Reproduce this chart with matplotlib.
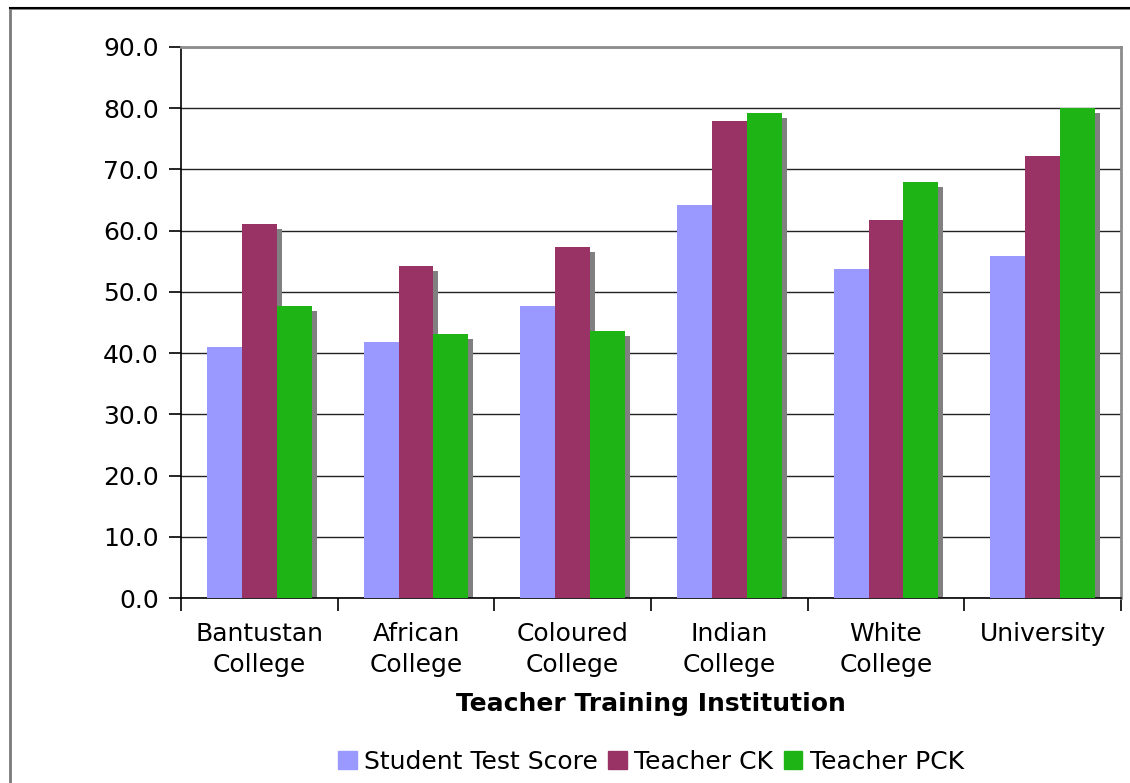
import matplotlib
matplotlib.use("Agg")
import matplotlib.pyplot as plt
import matplotlib.patches as mpatches
import numpy as np

categories = ["Bantustan\nCollege", "African\nCollege", "Coloured\nCollege",
              "Indian\nCollege", "White\nCollege", "University"]
student_test_score = [41.0, 41.8, 47.7, 64.2, 53.7, 55.9]
teacher_ck = [61.1, 54.2, 57.3, 77.9, 61.7, 72.2]
teacher_pck = [47.7, 43.1, 43.6, 79.2, 68.0, 80.0]
series_names = ["Student Test Score", "Teacher CK", "Teacher PCK"]
series_colors = ["#9999ff", "#993366", "#1fb416"]
y_ticks = [0, 10, 20, 30, 40, 50, 60, 70, 80, 90]

W, H = 1130, 783
fig = plt.figure(figsize=(W / 100, H / 100), dpi=100)
plt.rcParams['font.family'] = ['DejaVu Sans']
FS = 18

# outer chart frame
frame = mpatches.Rectangle((10 / W, -0.05), 1.2, 1 - 8 / H + 0.05,
                           transform=fig.transFigure, fill=False,
                           edgecolor="#7a7a7a", linewidth=2, zorder=0)
fig.patches.append(frame)
fig.add_artist(plt.Line2D([10 / W, 1.0], [1 - 8 / H, 1 - 8 / H],
                          transform=fig.transFigure, color="black", lw=1.5))

ax_left, ax_right, ax_top, ax_bottom = 181, 1121, 47, 598
ax = fig.add_axes([ax_left / W, 1 - ax_bottom / H,
                   (ax_right - ax_left) / W, (ax_bottom - ax_top) / H])

n = len(categories)
x = np.arange(n)
bw = 0.223
series = [student_test_score, teacher_ck, teacher_pck]
offsets = [-bw, 0, bw]

# shadows
dx = 5 / ((ax_right - ax_left) / n)
dy = 5 / ((ax_bottom - ax_top) / 90)
for vals, off in zip(series, offsets):
    ax.bar(x + off + dx, np.array(vals) - dy, width=bw, color="#808080",
           zorder=2, linewidth=0)
for vals, off, col, name in zip(series, offsets, series_colors, series_names):
    ax.bar(x + off, vals, width=bw, color=col, zorder=3, linewidth=0, label=name)

ax.set_xlim(-0.5, n - 0.5)
ax.set_ylim(0, 90)
ax.set_yticks(y_ticks)
ax.set_yticklabels([f"{v:.1f}" for v in y_ticks], fontsize=FS)
ax.yaxis.grid(True, color="#222222", linewidth=1, zorder=1)
ax.set_axisbelow(True)

# x ticks at group boundaries, labels at centers
ax.set_xticks(np.arange(-0.5, n, 1.0))
ax.set_xticklabels([])
ax.set_xticks(x, minor=True)
ax.set_xticklabels(categories, minor=True, fontsize=FS, linespacing=1.38)
ax.tick_params(axis="x", which="minor", length=0, pad=17)
ax.tick_params(axis="x", which="major", length=9, width=1.2, direction="out")
ax.tick_params(axis="y", length=9, width=1.2, direction="out", pad=7)

for s in ["top", "right"]:
    ax.spines[s].set_color("#8c8c8c")
    ax.spines[s].set_linewidth(2)
for s in ["left", "bottom"]:
    ax.spines[s].set_color("black")
    ax.spines[s].set_linewidth(1.2)

fig.text((ax_left + ax_right) / 2 / W, 1 - 704 / H, "Teacher Training Institution",
         ha="center", va="center", fontsize=FS, fontweight="bold")

handles = [mpatches.Patch(color=c, label=l) for c, l in zip(series_colors, series_names)]
fig.legend(handles=handles, loc="center", bbox_to_anchor=((ax_left + ax_right) / 2 / W, 1 - 762 / H),
           ncol=3, frameon=False, fontsize=FS, handlelength=0.75, handleheight=0.75,
           handletextpad=0.3, columnspacing=0.4, borderpad=0)

fig.savefig("out.png", dpi=100)
